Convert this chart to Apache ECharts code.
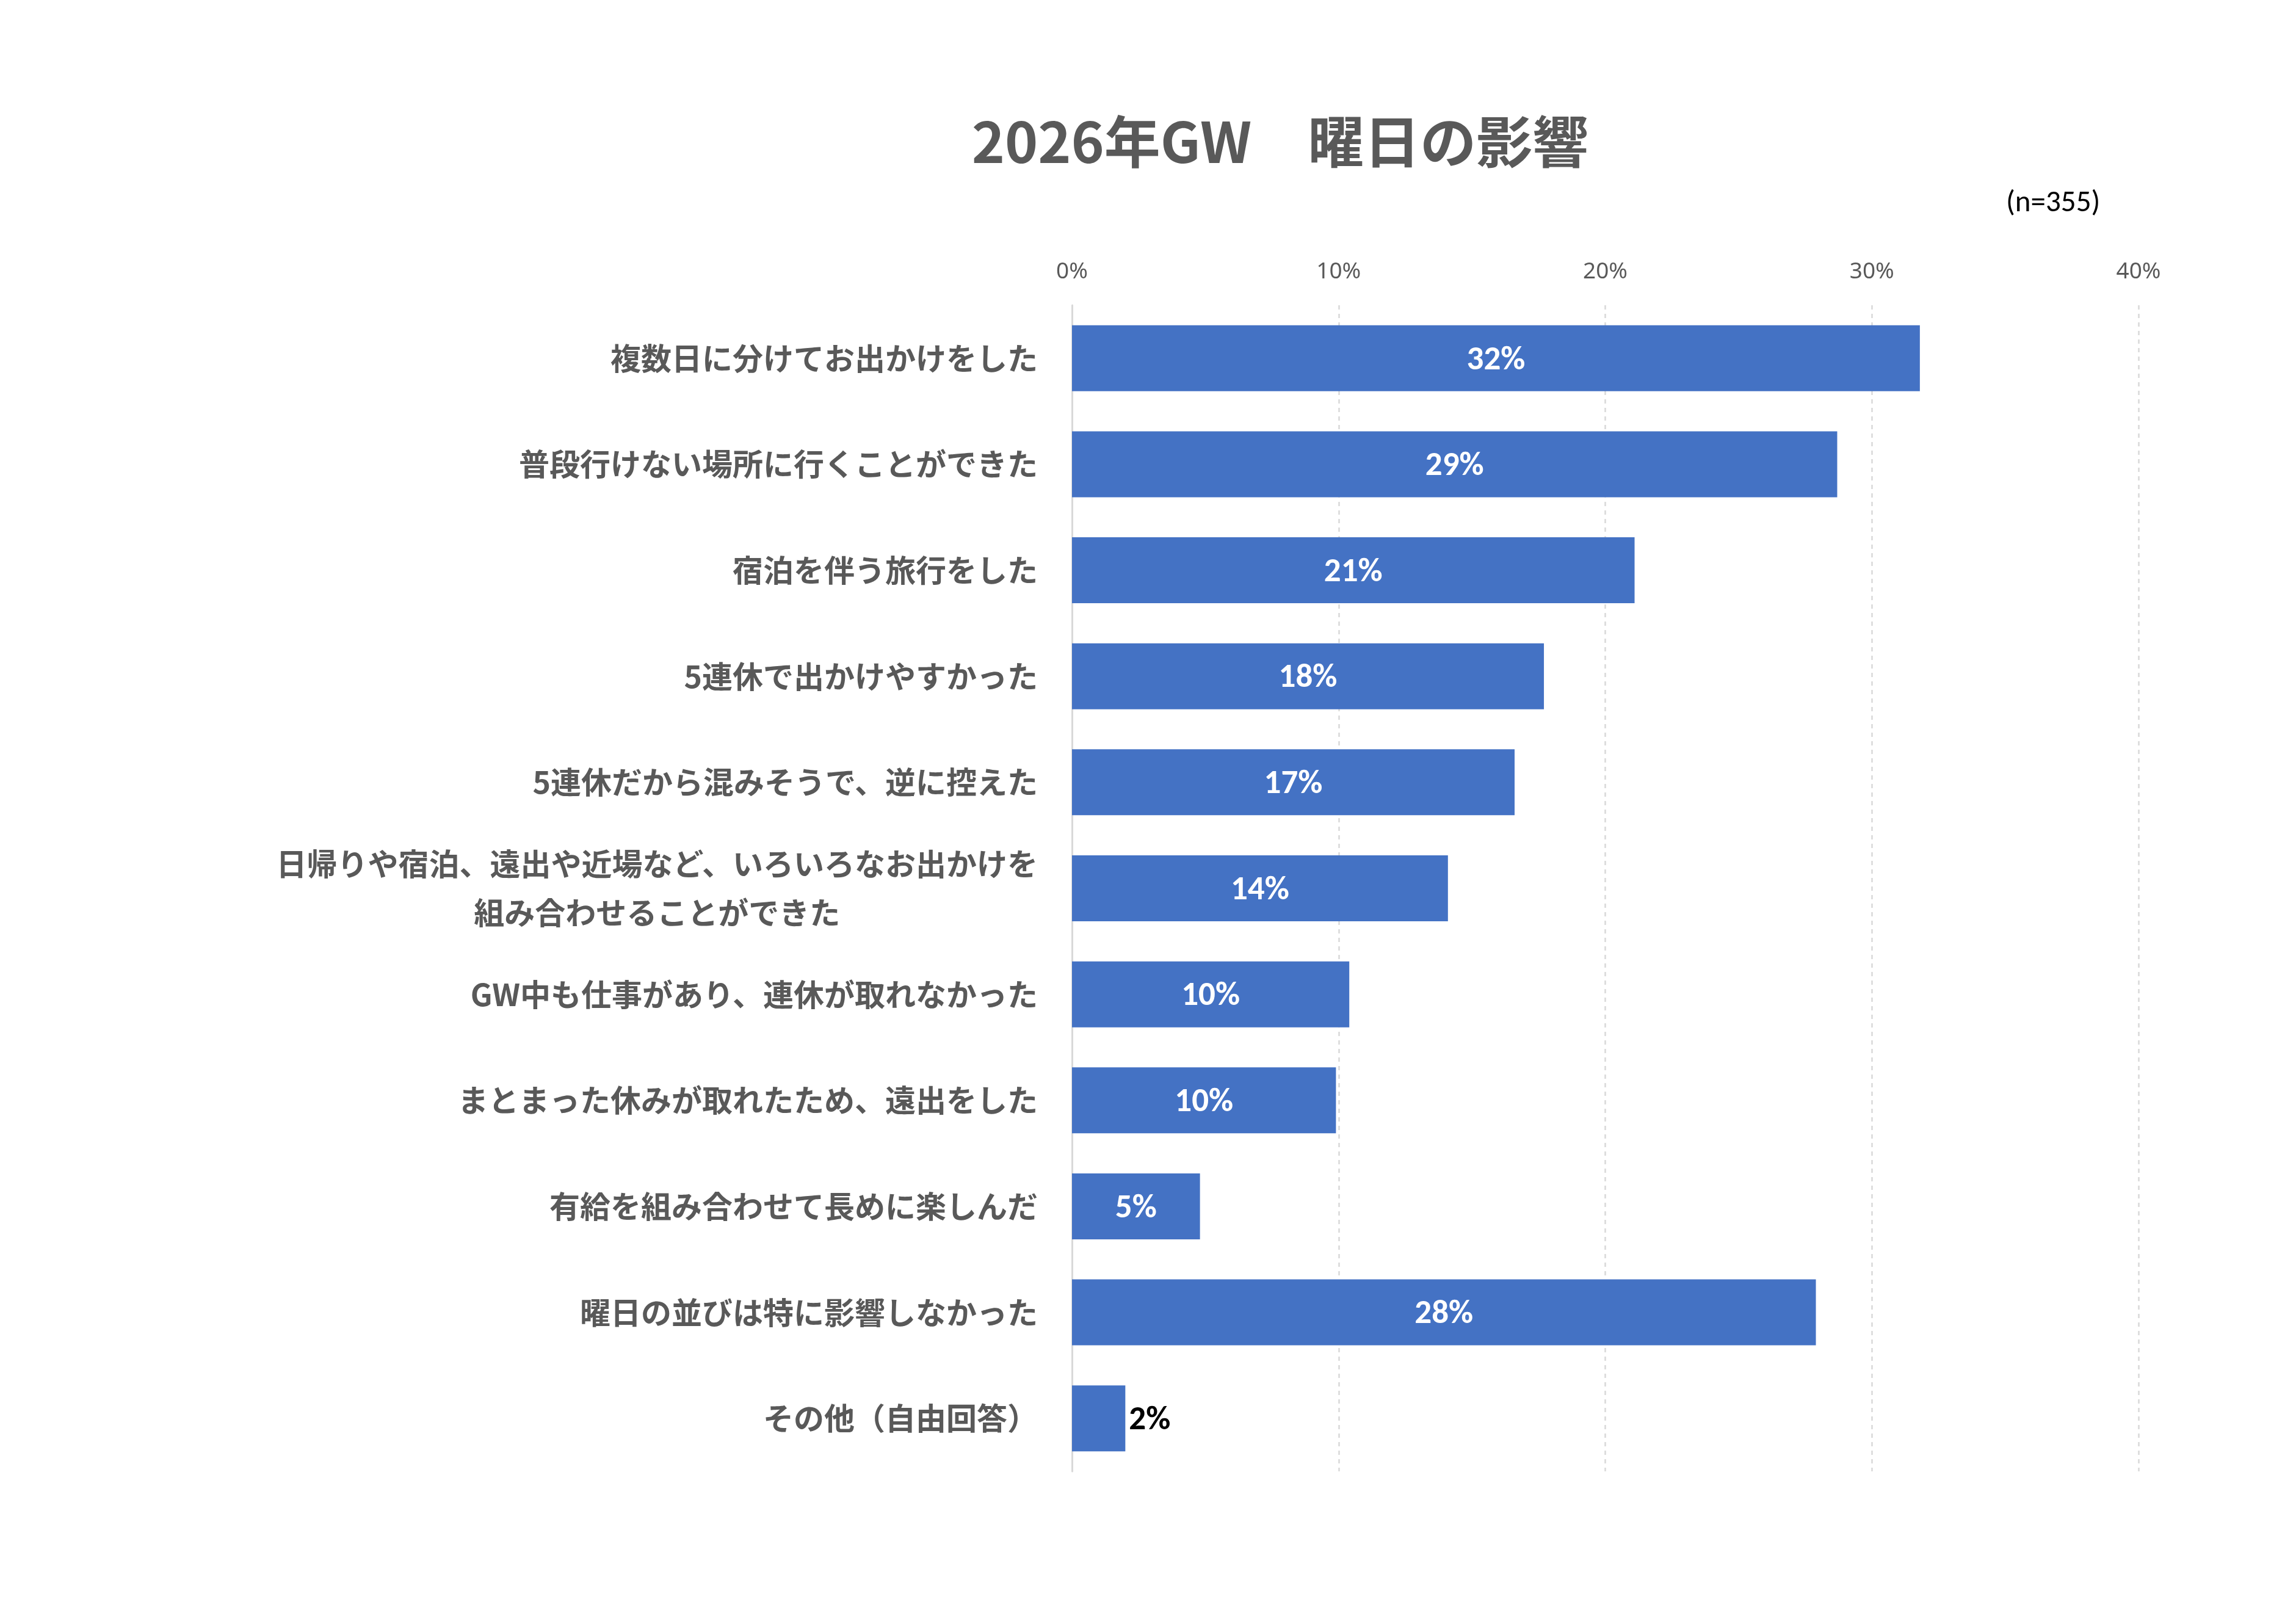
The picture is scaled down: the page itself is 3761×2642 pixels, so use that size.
<!DOCTYPE html>
<html>
<head>
<meta charset="utf-8">
<title>2026年GW 曜日の影響</title>
<script src="https://cdn.jsdelivr.net/npm/echarts@6/dist/echarts.min.js"></script>
<style>
  html, body { margin: 0; padding: 0; background: #ffffff; }
  #container { width: 3761px; height: 2642px; }
</style>
</head>
<body>
<div id="container"></div>
<script>
// 項目（上から順）
var categories = [
  '複数日に分けてお出かけをした',
  '普段行けない場所に行くことができた',
  '宿泊を伴う旅行をした',
  '5連休で出かけやすかった',
  '5連休だから混みそうで、逆に控えた',
  '日帰りや宿泊、遠出や近場など、いろいろなお出かけを\n組み合わせることができた',
  'GW中も仕事があり、連休が取れなかった',
  'まとまった休みが取れたため、遠出をした',
  '有給を組み合わせて長めに楽しんだ',
  '曜日の並びは特に影響しなかった',
  'その他（自由回答）'
];
// 割合（%）
var shares = [31.8, 28.7, 21.1, 17.7, 16.6, 14.1, 10.4, 9.9, 4.8, 27.9, 2.0];
var axisTicks = [0, 10, 20, 30, 40];

var jpFont = '"Noto Sans CJK JP", "Noto Sans", sans-serif';
var numFont = 'Carlito, Calibri, Lato, "Noto Sans", sans-serif';

var myChart = echarts.init(document.getElementById('container'));

var barData = [];
for (var i = 0; i < shares.length; i++) {
  var item = { value: shares[i] };
  // 細いバーはラベルを外側に
  if (shares[i] < 3) {
    item.label = { position: 'right', distance: 6, color: '#000000' };
  }
  barData.push(item);
}

var labelStyle = {
  fontFamily: jpFont,
  fontSize: 50,
  fontWeight: 'bold',
  color: '#595959',
  lineHeight: 80,
  align: 'center'
};

var option = {
  backgroundColor: '#ffffff',
  animation: false,
  title: [{
    text: '2026年GW　曜日の影響',
    left: 2097,
    top: 232,
    padding: 0,
    textAlign: 'center',
    textVerticalAlign: 'middle',
    textStyle: {
      fontFamily: jpFont,
      fontSize: 92,
      fontWeight: 'bold',
      color: '#595959'
    }
  }, {
    text: '(n=355)',
    left: 3286,
    top: 334,
    padding: 0,
    textAlign: 'left',
    textVerticalAlign: 'middle',
    textStyle: {
      fontFamily: numFont,
      fontSize: 49,
      fontWeight: 'normal',
      color: '#000000'
    }
  }],
  grid: {
    left: 1756,
    right: 258,
    top: 500,
    bottom: 232
  },
  xAxis: {
    type: 'value',
    position: 'top',
    min: axisTicks[0],
    max: axisTicks[axisTicks.length - 1],
    interval: axisTicks[1] - axisTicks[0],
    axisLine: { show: false },
    axisTick: { show: false },
    axisLabel: {
      formatter: '{value}%',
      fontFamily: '"Noto Sans", sans-serif',
      fontSize: 37,
      color: '#595959',
      margin: 36
    },
    splitLine: {
      show: true,
      showMinLine: false,
      lineStyle: { color: '#D9D9D9', width: 2.5, type: [7, 7] }
    }
  },
  yAxis: {
    type: 'category',
    inverse: true,
    data: categories,
    axisLine: { show: true, lineStyle: { color: '#D9D9D9', width: 3 } },
    axisTick: { show: false },
    splitLine: { show: false },
    axisLabel: {
      margin: 56,
      fontFamily: jpFont,
      fontSize: 50,
      fontWeight: 'bold',
      color: '#595959',
      lineHeight: 80,
      align: 'right',
      formatter: function (val) {
        return val.split('\n').map(function (s) { return '{c|' + s + '}'; }).join('\n');
      },
      rich: { c: labelStyle }
    }
  },
  series: [{
    name: '割合',
    type: 'bar',
    data: barData,
    barWidth: 108,
    itemStyle: { color: '#4472C4' },
    label: {
      show: true,
      position: 'inside',
      color: '#ffffff',
      fontFamily: numFont,
      fontSize: 55,
      fontWeight: 'bold',
      offset: [0, 4],
      formatter: function (p) { return Math.round(p.value) + '%'; }
    }
  }]
};

myChart.setOption(option);
</script>
</body>
</html>
